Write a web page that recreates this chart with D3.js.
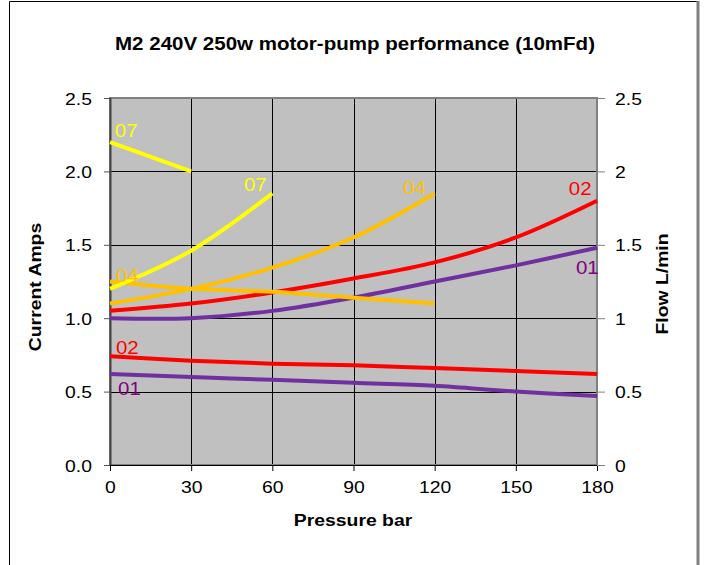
<!DOCTYPE html>
<html>
<head>
<meta charset="utf-8">
<script src="https://cdn.jsdelivr.net/npm/d3@7"></script>
<style>
  html, body { margin: 0; padding: 0; background: #fff; }
  svg { display: block; font-family: "Liberation Sans", Arial, sans-serif; }
</style>
</head>
<body>
<svg id="chart" width="704" height="565"></svg>
<script>
// Pressure readings (bar) and measured currents / flows per test set
const pressure = [0, 30, 60, 90, 120, 150, 180];

const amps01 = [1.0, 1.0, 1.05, 1.14, 1.25, 1.36, 1.48];
const flow01 = [0.62, 0.60, 0.58, 0.56, 0.54, 0.50, 0.47];
const amps02 = [1.05, 1.10, 1.175, 1.27, 1.38, 1.55, 1.80];
const flow02 = [0.74, 0.71, 0.69, 0.68, 0.66, 0.64, 0.62];
const amps04 = [1.10, 1.20, 1.345, 1.55, 1.85];
const flow04 = [1.25, 1.20, 1.18, 1.14, 1.10];
const amps07 = [1.20, 1.46, 1.85];
const flow07 = [2.20, 2.00];

const xTicks = [0, 30, 60, 90, 120, 150, 180];
const yTicks = [0, 0.5, 1.0, 1.5, 2.0, 2.5];
const yLeftLabels = ["0.0", "0.5", "1.0", "1.5", "2.0", "2.5"];
const yRightLabels = ["0", "0.5", "1", "1.5", "2", "2.5"];

// Curve name tags: [text, pressure, value, colour]
const seriesLabels = [
  ["07", 1.8, 2.234, "#FFFF00"],
  ["07", 49.5, 1.866, "#FFFF00"],
  ["04", 108.3, 1.846, "#FFC000"],
  ["02", 169.6, 1.839, "#FF0000"],
  ["01", 172.2, 1.301, "#800080"],
  ["04", 2.2, 1.247, "#FFC000"],
  ["02", 2.2, 0.756, "#FF0000"],
  ["01", 3.0, 0.477, "#800080"]
];

const svg = d3.select("#chart");
const plot = { left: 110, right: 597, top: 98, bottom: 465 };
const WIDEN = 1.14; // glyphs are drawn slightly wider than the stock font

const x = d3.scaleLinear().domain([0, 180]).range([plot.left, plot.right]);
const yL = d3.scaleLinear().domain([0, 2.5]).range([plot.bottom, plot.top]);
const yR = d3.scaleLinear().domain([0, 2.5]).range([plot.bottom, plot.top]);

// widen text horizontally about its own anchor point
function widen(sel, rot = 0) {
  sel.each(function () {
    const t = d3.select(this);
    const ax = +t.attr("x") || 0, ay = +t.attr("y") || 0;
    t.attr("x", 0).attr("y", 0)
      .attr("transform", `translate(${ax},${ay}) rotate(${rot}) scale(${WIDEN},1)`);
  });
}

// outer chart frame
svg.append("path")
  .attr("d", "M9.5,566 V1.5 H698")
  .attr("fill", "none").attr("stroke", "#000").attr("stroke-width", 1);
svg.append("line")
  .attr("x1", 698).attr("x2", 698).attr("y1", 1).attr("y2", 566)
  .attr("stroke", "#808080").attr("stroke-width", 3);

// title
svg.append("text")
  .attr("x", 355).attr("y", 50)
  .attr("text-anchor", "middle")
  .attr("font-size", 18).attr("font-weight", "bold")
  .text("M2 240V 250w motor-pump performance (10mFd)")
  .call(widen);

// plot background
svg.append("rect")
  .attr("x", plot.left).attr("y", plot.top)
  .attr("width", plot.right - plot.left).attr("height", plot.bottom - plot.top)
  .attr("fill", "#C0C0C0");

// grid
const grid = svg.append("g");
grid.selectAll("line.h").data(yTicks.slice(1, -1)).join("line")
  .attr("x1", plot.left).attr("x2", plot.right)
  .attr("y1", d => Math.round(yL(d)) + 0.5).attr("y2", d => Math.round(yL(d)) + 0.5)
  .attr("stroke", "#000").attr("stroke-width", 1);
grid.selectAll("line.v").data(xTicks.slice(1, -1)).join("line")
  .attr("x1", d => Math.round(x(d)) + 0.5).attr("x2", d => Math.round(x(d)) + 0.5)
  .attr("y1", plot.top).attr("y2", plot.bottom)
  .attr("stroke", "#000").attr("stroke-width", 1);

// plot border
svg.append("rect")
  .attr("x", plot.left).attr("y", plot.top)
  .attr("width", plot.right - plot.left).attr("height", plot.bottom - plot.top)
  .attr("fill", "none").attr("stroke", "#808080").attr("stroke-width", 2);

// axes
const fontSize = 17;
const xAxis = svg.append("g").attr("transform", `translate(0,${plot.bottom})`)
  .call(d3.axisBottom(x).tickValues(xTicks).tickSize(6).tickPadding(10).tickFormat(d3.format("d")));
const yAxisL = svg.append("g").attr("transform", `translate(${plot.left},0)`)
  .call(d3.axisLeft(yL).tickValues(yTicks).tickSize(6).tickPadding(12)
    .tickFormat((d, i) => yLeftLabels[i]));
const yAxisR = svg.append("g").attr("transform", `translate(${plot.right},0)`)
  .call(d3.axisRight(yR).tickValues(yTicks).tickSize(8).tickPadding(10)
    .tickFormat((d, i) => yRightLabels[i]));

[xAxis, yAxisL, yAxisR].forEach(g => {
  g.select(".domain").remove();
  g.selectAll("line").attr("stroke", "#000");
  g.selectAll("text").attr("font-size", fontSize).attr("fill", "#000")
    .attr("font-family", "Liberation Sans, Arial, sans-serif");
});
// bake the axis text offsets into positions, then widen
xAxis.selectAll("text").each(function () {
  const t = d3.select(this);
  t.attr("y", (+t.attr("y")) + fontSize * 0.71).attr("dy", null);
}).call(widen);
[yAxisL, yAxisR].forEach(g => g.selectAll("text").each(function () {
  const t = d3.select(this);
  t.attr("y", fontSize * 0.36).attr("dy", null);
}).call(widen));

yAxisL.selectAll("line").attr("stroke", "#555");
yAxisR.selectAll("line").attr("stroke", "#808080");
xAxis.append("line").attr("x1", plot.left).attr("x2", plot.right)
  .attr("y1", 0.5).attr("y2", 0.5).attr("stroke", "#000");
yAxisL.append("line").attr("x1", 0.5).attr("x2", 0.5)
  .attr("y1", plot.top).attr("y2", plot.bottom).attr("stroke", "#444").attr("stroke-width", 2);

// axis titles
svg.append("text")
  .attr("x", 353).attr("y", 526).attr("text-anchor", "middle")
  .attr("font-size", 17).attr("font-weight", "bold").text("Pressure bar")
  .call(widen);
svg.append("text")
  .attr("x", 41).attr("y", 287).attr("text-anchor", "middle")
  .attr("font-size", 17).attr("font-weight", "bold").text("Current Amps")
  .call(widen, -90);
svg.append("text")
  .attr("x", 668).attr("y", 284).attr("text-anchor", "middle")
  .attr("font-size", 17).attr("font-weight", "bold").text("Flow L/min")
  .call(widen, -90);

// series lines
const curve = d3.curveCatmullRom.alpha(0.5);
const lineL = d3.line().x(d => x(d[0])).y(d => yL(d[1])).curve(curve);
const lineR = d3.line().x(d => x(d[0])).y(d => yR(d[1])).curve(curve);
const zipP = vals => vals.map((v, i) => [pressure[i], v]);

const series = [
  { vals: flow01, gen: lineR, color: "#7030A0" },
  { vals: amps01, gen: lineL, color: "#7030A0" },
  { vals: flow02, gen: lineR, color: "#FF0000" },
  { vals: amps02, gen: lineL, color: "#FF0000" },
  { vals: flow04, gen: lineR, color: "#FFC000" },
  { vals: amps04, gen: lineL, color: "#FFC000" },
  { vals: flow07, gen: lineR, color: "#FFFF00" },
  { vals: amps07, gen: lineL, color: "#FFFF00" }
];
svg.append("g").selectAll("path").data(series).join("path")
  .attr("d", s => s.gen(zipP(s.vals)))
  .attr("fill", "none").attr("stroke", s => s.color)
  .attr("stroke-width", 4).attr("stroke-linejoin", "round");

// series tags
svg.append("g").selectAll("text").data(seriesLabels).join("text")
  .attr("x", d => x(d[1])).attr("y", d => yL(d[2]))
  .attr("font-size", 18).attr("fill", d => d[3])
  .text(d => d[0])
  .call(widen);
</script>
</body>
</html>
